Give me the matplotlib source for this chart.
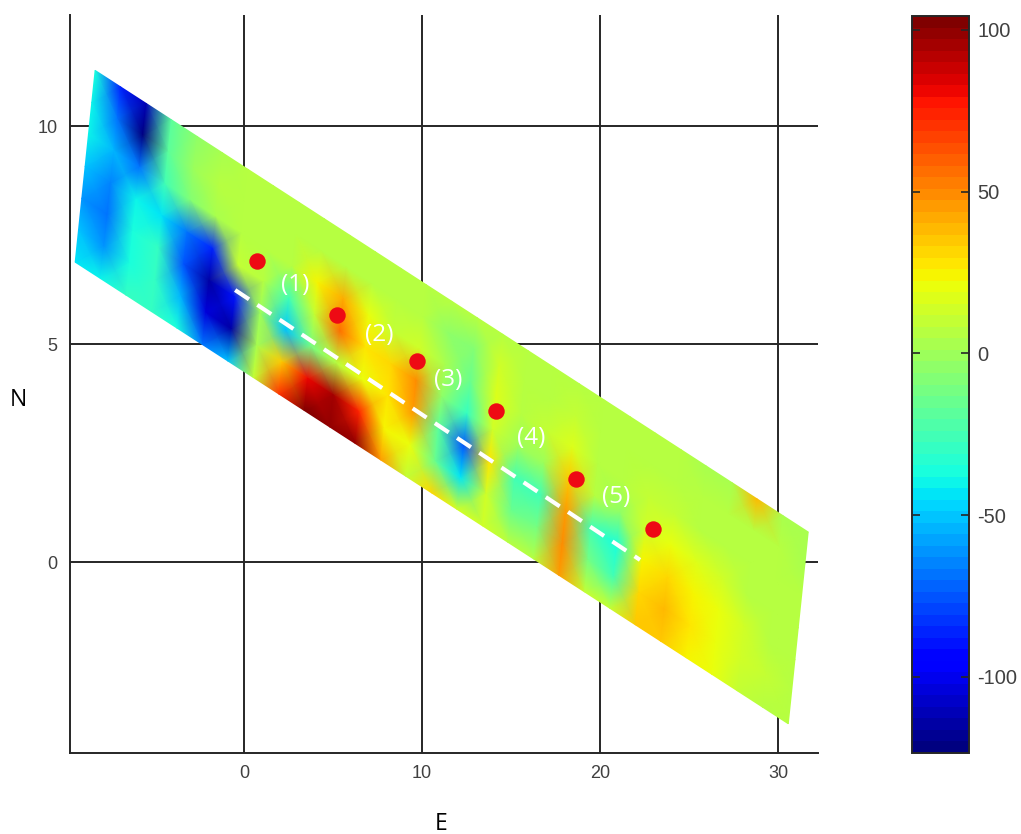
import numpy as np
import matplotlib
matplotlib.use("Agg")
import matplotlib.pyplot as plt

plt.rcParams["font.family"] = ["Liberation Sans", "DejaVu Sans"]
plt.rcParams["axes.unicode_minus"] = False

# strip corners in (E, N)
corner_tl = (-8.37, 11.28)
corner_tr = (31.7, 0.69)
corner_bl = (-9.49, 6.88)

# values across the strip, top edge to bottom edge, left to right
row0 = [-35, -85, -110, -20, -3, 3, 5, 6, 6, 6, 6, 6, 6, 6, 6, 5, 6, 6, 6, 7, 7, 7, 6, 5, 4, 3, 38, 3, 4]
row1 = [-40, -70, -120, -20, 0, 5, 5, 7, 7, 7, 8, 7, 7, 5, -5, -8, 15, 8, 7, 10, 8, 8, 8, 7, 6, 6, 8, 5, 4]
row2 = [-40, -55, -70, -25, -8, 3, 6, 8, 8, 25, 42, 22, 10, 15, 3, -15, 18, 8, 10, 18, 8, 8, 10, 9, 8, 8, 7, 5, 5]
row3 = [-50, -65, -40, -45, -70, -85, 10, 8, -25, 10, 55, 28, 32, 48, -5, -30, 15, 0, 0, 36, 5, -3, 15, 20, 17, 12, 8, 6, 5]
row4 = [-60, -70, -35, -30, -75, -115, -90, 0, -50, -10, 5, 20, 28, 45, -20, -75, 28, -25, -25, 46, -25, -35, 25, 30, 25, 20, 12, 8, 7]
row5 = [-50, -60, -35, -28, -55, -105, -115, 3, 35, 80, 95, 75, 25, 20, -15, -45, 12, -15, -10, 50, -10, -25, 30, 38, 26, 22, 12, 9, 7]
row6 = [-45, -40, -30, -28, -35, -70, -50, 10, 70, 102, 100, 100, 45, 10, 32, 12, 12, 5, 8, 46, 10, 10, 35, 36, 25, 20, 10, 8, 8]

dots_e = [0.73, 5.2, 9.7, 14.15, 18.65, 23.0]
dots_n = [6.9, 5.67, 4.61, 3.46, 1.9, 0.76]
track_e = [-0.5, 22.25]
track_n = [6.24, 0.05]
labels = ["(1)", "(2)", "(3)", "(4)", "(5)"]
labels_e = [2.9, 7.6, 11.45, 16.15, 20.9]
labels_n = [6.36, 5.2, 4.17, 2.84, 1.5]

values = np.array([row0, row1, row2, row3, row4, row5, row6], dtype=float)
u, v = np.meshgrid(np.linspace(0, 1, values.shape[1]), np.linspace(0, 1, values.shape[0]))
east = corner_tl[0] + u * (corner_tr[0] - corner_tl[0]) + v * (corner_bl[0] - corner_tl[0])
north = corner_tl[1] + u * (corner_tr[1] - corner_tl[1]) + v * (corner_bl[1] - corner_tl[1])

W, H = 1021, 834
fig = plt.figure(figsize=(W / 100, H / 100), dpi=100)
ax = fig.add_axes([70 / W, (H - 753) / H, 748 / W, 738 / H])
cax = fig.add_axes([912 / W, (H - 753) / H, 57 / W, 737 / H])

dark = "#262626"

mesh = ax.pcolormesh(east, north, values, shading="gouraud", cmap=plt.get_cmap("jet", 64),
                     vmin=-123.5, vmax=104.3, zorder=2)
ax.plot(track_e, track_n, color="white", lw=3.0, dashes=(4.0, 2.4), zorder=3)
ax.scatter(dots_e, dots_n, s=140, color="#ee0a14", linewidths=0, zorder=4)
for txt, e, n in zip(labels, labels_e, labels_n):
    ax.text(e, n, txt, color="white", fontsize=17.5, family="Open Sans", ha="center", va="center", zorder=5)

ax.set_xlim(-9.78, 32.25)
ax.set_ylim(-4.38, 12.55)
ax.set_xticks([0, 10, 20, 30])
ax.set_yticks([0, 5, 10])
ax.grid(True, color=dark, lw=1.4, zorder=1)
ax.set_axisbelow(True)
ax.spines["top"].set_visible(False)
ax.spines["right"].set_visible(False)
for side in ["left", "bottom"]:
    ax.spines[side].set_linewidth(1.4)
    ax.spines[side].set_color(dark)
ax.tick_params(length=0, labelsize=13, labelcolor="#404040", pad=9)

cb = fig.colorbar(mesh, cax=cax)
cb.set_ticks([-100, -50, 0, 50, 100])
cb.ax.tick_params(direction="in", length=5.5, width=1.2, color=dark, left=True, right=True,
                  labelsize=14.5, labelcolor="#404040", pad=6)
cb.outline.set_linewidth(1.4)
cb.outline.set_edgecolor(dark)

fig.text(18 / W, 1 - 400 / H, "N", fontsize=16.5, family="Open Sans", ha="center", va="center", color="black")
fig.text(441 / W, 1 - 824 / H, "E", fontsize=16.5, family="Open Sans", ha="center", va="center", color="black")

fig.savefig("out.png", dpi=100)
